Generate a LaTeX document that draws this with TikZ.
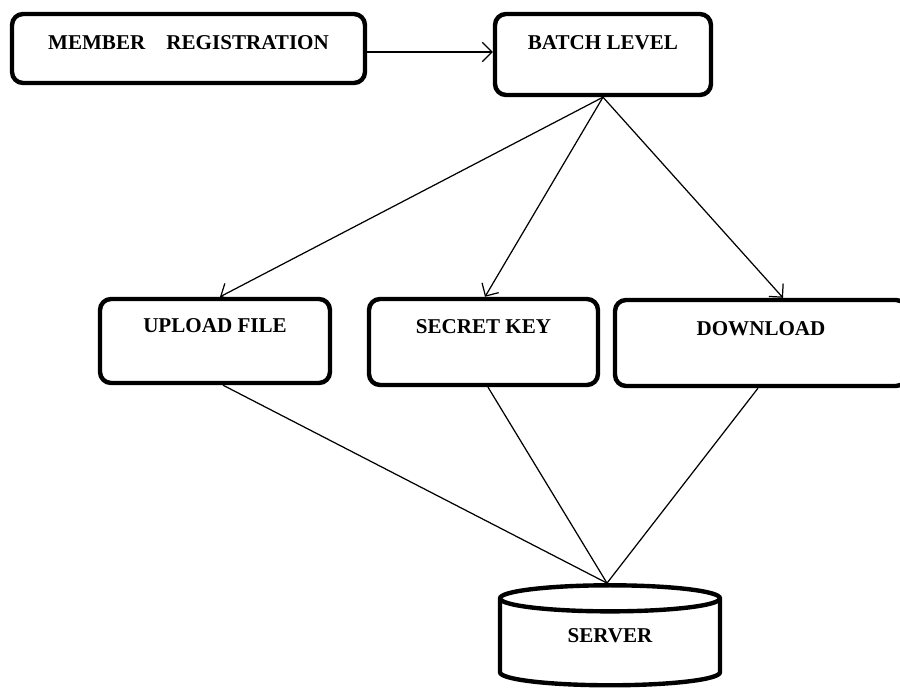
\documentclass[tikz,border=0pt]{standalone}
\usepackage{fontspec}
\setmainfont{Liberation Serif}
\usetikzlibrary{arrows.meta,shapes.geometric}
\begin{document}
\begin{tikzpicture}[x=0.02cm,y=-0.02cm,
  box/.style={draw,line width=2.5pt,rounded corners=0.22cm,font=\fontsize{12}{14}\selectfont\bfseries,text height=8pt,text depth=#1},
  box/.default=18pt,
  db/.style={draw,cylinder,shape border rotate=90,line width=2.5pt,font=\fontsize{12}{14}\selectfont\bfseries,text height=8pt,text depth=11pt},
  arr/.style={-{Straight Barb[length=5.5pt,width=11pt]},line width=0.7pt},
  ln/.style={line width=0.7pt}]
\useasboundingbox (0,0) rectangle (900,689);

% boxes
\node[box=7.4pt,minimum width=7.06cm,minimum height=1.38cm] (member) at (188.5,48.5) {MEMBER\hspace{9pt} REGISTRATION};
\node[box=14pt,minimum width=4.32cm,minimum height=1.62cm] (batch) at (603,54.5) {BATCH LEVEL};
\node[box,minimum width=4.6cm,minimum height=1.68cm] (upload) at (215,341) {UPLOAD FILE};
\node[box,minimum width=4.58cm,minimum height=1.72cm] (secret) at (483.5,342) {SECRET KEY};
\node[box=17pt,minimum width=5.84cm,minimum height=1.72cm] (download) at (761,343) {DOWNLOAD};
\node[db,aspect=0.27,minimum width=4.4cm,minimum height=2cm] (server) at (610,645) {SERVER};

% connectors
\draw[arr] ([yshift=-0.07cm]member.east) -- ([yshift=-0.07cm]member.east -| batch.west);
\draw[arr] (batch.south) -- ([xshift=0.1cm]upload.north);
\draw[arr] (batch.south) -- ([xshift=0.03cm]secret.north);
\draw[arr] (batch.south) -- ([xshift=0.44cm]download.north);

\draw[ln] ([xshift=0.16cm]upload.south) -- ([xshift=-0.06cm]server.north);
\draw[ln] ([xshift=0.09cm]secret.south) -- ([xshift=-0.06cm]server.north);
\draw[ln] ([xshift=-0.06cm]download.south) -- ([xshift=-0.06cm]server.north);
\end{tikzpicture}
\end{document}
